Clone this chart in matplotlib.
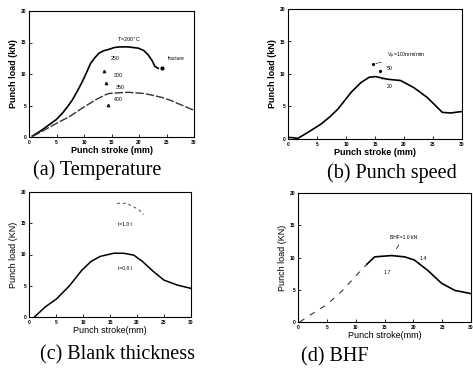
import numpy as np
import matplotlib
matplotlib.use('Agg')
import matplotlib.pyplot as plt

plt.rcParams['font.family'] = 'Liberation Sans'

# (a) temperature
a_x_200 = [0.6, 2.0, 3.6, 5.0, 6.1, 7.0, 7.9, 8.8, 9.7, 10.5, 11.2, 12.0, 12.7, 13.6, 14.5, 15.5, 16.5, 18.0, 19.9, 20.9, 21.7, 22.4, 22.9, 23.5]
a_y_200 = [0.15, 0.9, 1.9, 2.8, 3.8, 4.8, 5.9, 7.3, 8.8, 10.3, 11.7, 12.6, 13.3, 13.7, 13.9, 14.2, 14.3, 14.3, 14.1, 13.7, 13.0, 12.1, 11.2, 10.9]
a_x_400 = [0.6, 2.2, 3.6, 5.5, 7.3, 9.7, 12.1, 13.9, 14.5, 16.0, 18.0, 21.0, 24.1, 25.8, 27.1, 28.5, 29.5, 30.0]
a_y_400 = [0.1, 0.8, 1.5, 2.4, 3.2, 4.6, 5.9, 6.7, 6.9, 7.0, 7.1, 6.9, 6.3, 5.8, 5.3, 4.8, 4.4, 4.3]
a_mark_x = [13.6, 14.0, 14.3]
a_mark_y = [10.4, 8.5, 5.1]

# (b) punch speed
b_x = [0.0, 0.8, 1.7, 3.4, 5.7, 7.2, 8.6, 10.9, 12.6, 14.0, 15.1, 17.1, 19.4, 21.7, 24.0, 25.7, 26.6, 28.0, 29.7, 30.0]
b_y = [0.25, 0.2, 0.1, 1.0, 2.3, 3.4, 4.6, 7.2, 8.7, 9.5, 9.6, 9.2, 9.0, 7.9, 6.4, 4.9, 4.1, 4.0, 4.2, 4.2]

# (c) blank thickness
c_x = [1.0, 3.0, 5.1, 7.5, 9.8, 11.5, 13.2, 15.7, 17.5, 19.4, 21.0, 23.0, 25.0, 27.5, 29.9]
c_y = [0.0, 1.6, 2.9, 5.0, 7.5, 8.9, 9.7, 10.2, 10.2, 9.9, 8.9, 7.3, 5.9, 5.1, 4.6]
c_x_10 = [16.3, 18.1, 20.3, 21.2]
c_y_10 = [18.2, 18.2, 17.2, 16.4]

# (d) BHF
d_x = [0.3, 2.5, 5.0, 7.5, 10.4, 12.0, 13.3, 16.2, 18.5, 20.2, 22.5, 24.9, 27.2, 30.0]
d_y = [0.0, 1.3, 2.7, 4.7, 7.5, 9.0, 10.1, 10.3, 10.1, 9.6, 8.0, 6.0, 4.9, 4.4]

W, H = 473, 368
fig = plt.figure(figsize=(W / 100, H / 100), dpi=100)


def mk_axes(l, t, r, b):
    return fig.add_axes([l / W, (H - b) / H, (r - l) / W, (b - t) / H])


def style(ax, ylab, xlab, bold):
    ax.set_xlim(0, 30)
    ax.set_ylim(0, 20)
    ax.set_xticks(range(0, 31, 5))
    ax.set_yticks(range(0, 21, 5))
    ax.tick_params(direction='in', length=2, width=0.6, labelsize=3.5, pad=2)
    for lab in ax.get_xticklabels() + ax.get_yticklabels():
        lab.set_fontweight('bold')
    for s in ax.spines.values():
        s.set_linewidth(0.8)
    w = 'bold' if bold else 'normal'
    ax.set_ylabel(ylab, fontsize=6.5, fontweight=w, labelpad=2)
    ax.set_xlabel(xlab, fontsize=6.5, fontweight=w, labelpad=1)


# (a)
ax = mk_axes(29, 11, 194, 137)
ax.plot(a_x_200, a_y_200, color='black', lw=1.2)
ax.plot(a_x_400, a_y_400, color='#333333', lw=1.0, ls=(0, (6, 1.5)))
ax.plot([24.1], [11.0], 'o', color='black', ms=2)
ax.plot(a_mark_x, a_mark_y, '^', color='#222222', ms=1.8)
ax.text(16.0, 15.4, 'T=200$^\\circ$C', fontsize=3.8, va='center')
ax.text(14.8, 12.5, '250', fontsize=3.8, va='center')
ax.text(15.5, 9.7, '300', fontsize=3.8, va='center')
ax.text(15.8, 7.9, '350', fontsize=3.8, va='center')
ax.text(15.5, 6.0, '400', fontsize=3.8, va='center')
ax.text(25.2, 12.4, 'fracture', fontsize=3.5, va='center')
style(ax, 'Punch load (kN)', 'Punch stroke (mm)', True)

# (b)
ax = mk_axes(288, 9, 462, 139)
ax.plot(b_x, b_y, color='black', lw=1.2)
ax.plot([14.7, 15.8], [11.5, 10.4], '.', color='black', ms=2.5)
ax.annotate('V$_p$=100mm/min', xy=(14.7, 11.5), xytext=(17.0, 12.8), fontsize=3.8, va='center',
            arrowprops=dict(arrowstyle='-', ls='--', lw=0.5))
ax.annotate('50', xy=(15.8, 10.4), xytext=(17.1, 10.9), fontsize=3.8, va='center',
            arrowprops=dict(arrowstyle='-', ls='--', lw=0.5))
ax.annotate('20', xy=(16.2, 9.2), xytext=(17.1, 8.1), fontsize=3.8, va='center',
            arrowprops=dict(arrowstyle='-', ls='--', lw=0.5))
style(ax, 'Punch load (kN)', 'Punch stroke (mm)', True)

# (c)
ax = mk_axes(29, 192, 191, 317)
ax.plot(c_x, c_y, color='black', lw=1.1)
ax.plot(c_x_10, c_y_10, color='#444444', lw=0.7, ls=(0, (3, 3)))
ax.text(16.5, 14.6, 't=1.0 t', fontsize=3.5)
ax.text(16.5, 7.6, 't=0.8 t', fontsize=3.5)
style(ax, 'Punch load (KN)', 'Punch stroke(mm)', False)

# (d)
ax = mk_axes(298, 193, 471, 322)
ax.plot(d_x[:6], d_y[:6], color='#333333', lw=0.8, ls=(0, (5, 6)))
ax.plot(d_x[5:], d_y[5:], color='black', lw=1.2)
ax.annotate('BHF=1.0 kN', xy=(16.8, 11.0), xytext=(16.0, 12.9), fontsize=3.6,
            arrowprops=dict(arrowstyle='-', lw=0.5))
ax.text(21.0, 9.6, '1.4', fontsize=3.8)
ax.text(14.8, 7.4, '1.7', fontsize=3.8)
style(ax, 'Punch load (KN)', 'Punch stroke(mm)', False)

# captions
cap = dict(fontsize=14.5, family='Liberation Serif', ha='center', va='center')
fig.text(97 / W, 1 - 170 / H, '(a) Temperature', **cap)
fig.text(392 / W, 1 - 173 / H, '(b) Punch speed', **cap)
fig.text(117 / W, 1 - 355 / H, '(c) Blank thickness', **cap)
fig.text(335 / W, 1 - 357 / H, '(d) BHF', **cap)

fig.savefig('out.png', dpi=100)
